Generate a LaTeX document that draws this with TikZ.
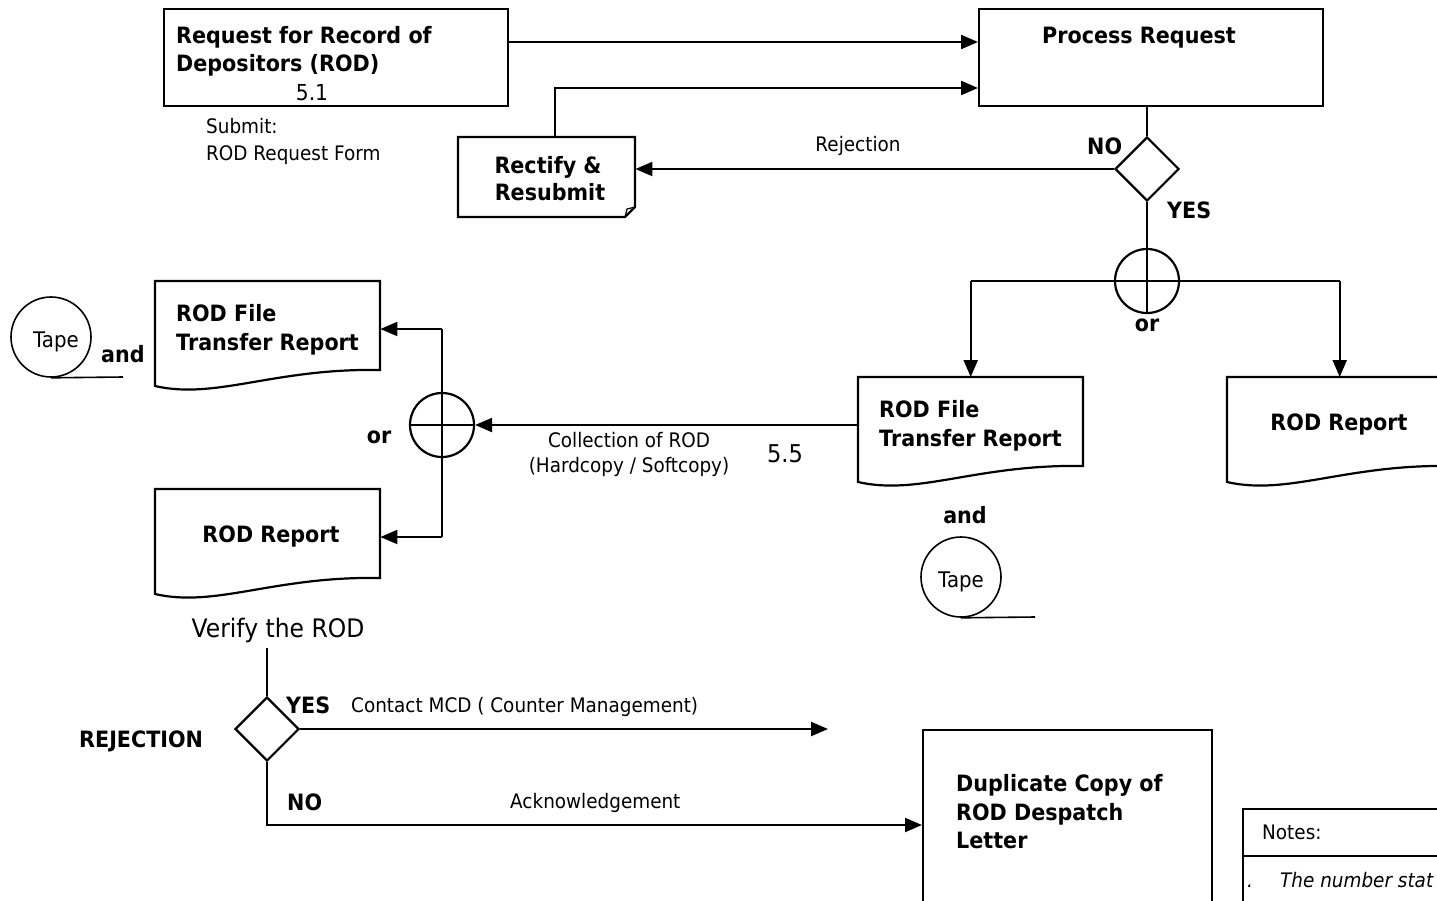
\documentclass[tikz,border=0pt]{standalone}
\usepackage{fontspec}
\setmainfont{DejaVu Sans}[FakeStretch=0.92]
\usetikzlibrary{arrows.meta,shapes.geometric}
\newcommand\fb{\fontsize{22.5}{27}\selectfont\bfseries}
\newcommand\fr{\fontsize{20}{24}\selectfont}
\newcommand\docat[5]{%
  \node[inner sep=0pt, minimum width=#4pt, minimum height=#5pt, anchor=north west] (#1) at (#2,#3) {};
  \pgfmathsetmacro\dXa{#2}\pgfmathsetmacro\dXb{#2+#4}%
  \pgfmathsetmacro\dYr{#3+#5}\pgfmathsetmacro\dYl{#3+#5+16}%
  \pgfmathsetmacro\dCa{#2+0.53*#4}\pgfmathsetmacro\dCb{#2+0.27*#4}%
  \pgfmathsetmacro\dYc{\dYr-2}\pgfmathsetmacro\dYd{\dYl+14}%
  \draw[ln] (\dXa,\dYl) -- (\dXa,#3) -- (\dXb,#3) -- (\dXb,\dYr) .. controls (\dCa,\dYc) and (\dCb,\dYd) .. (\dXa,\dYl) -- cycle;}
\tikzset{
  ln/.style={line width=2.2pt},
  arr/.style={ln, -{Triangle[length=17pt,width=14pt]}},
  boxn/.style={draw, ln, inner sep=0pt, anchor=north west},
  lb/.style={inner sep=0pt, anchor=base west},
  lc/.style={inner sep=0pt, anchor=base},
  xcirc/.style={draw, ln, circle, inner sep=0pt, minimum size=64pt},
  tape/.style={draw, line width=1.6pt, circle, inner sep=0pt, minimum size=80pt},
  dia/.style={draw, ln, diamond, inner sep=0pt, minimum width=64pt, minimum height=64pt},
}
\begin{document}
\begin{tikzpicture}[x=1pt, y=-1pt]
\useasboundingbox (0,0) rectangle (1437,900);
\clip (0,0) rectangle (1437,900);

% --- top row
\node[boxn, minimum width=344pt, minimum height=97pt] (req) at (163,8) {};
\node[lb] at (176,43) {\fb Request for Record of};
\node[lb] at (176,71) {\fb Depositors (ROD)};
\node[lc] at (312,100) {\fontsize{22}{26}\selectfont 5.1};
\node[lb] at (206,133) {\fr Submit:};
\node[lb] at (206,160) {\fr ROD Request Form};

\node[boxn, minimum width=344pt, minimum height=97pt] (proc) at (978,8) {};
\node[lc] at (1139,43) {\fb Process Request};

% rectify (document with folded corner)
\node[inner sep=0pt, minimum width=177pt, minimum height=80pt, anchor=north west] (rect) at (458,137) {};
\draw[ln] (458,137) -- (635,137) -- (635,207) -- (625,217) -- (458,217) -- cycle;
\draw[line width=1.2pt] (625,217) -- (627,209) -- (635,207);
\node[lc] at (548,173) {\fb Rectify \&};
\node[lc] at (550,200) {\fb Resubmit};

\coordinate (a1) at (0,42);
\draw[arr] (req.east |- a1) -- (proc.west |- a1);
\coordinate (r1) at (555,137);
\coordinate (r2) at (978,88);
\draw[arr] (r1) |- (r2);

% decision 1
\node[dia] (dia1) at (1147,169) {};
\draw[ln] (proc.south -| dia1) -- (dia1.north);
\draw[arr] (dia1.west) -- (rect.east |- dia1.west);
\node[lc] at (858,151) {\fr Rejection};
\node[lb] at (1087,154) {\fb NO};
\node[lb] at (1167,218) {\fb YES};

% or split 1
\node[xcirc] (x1) at (1147,281) {};
\draw[ln] (dia1.south) -- (x1.south);
\draw[ln] (x1.west) -- (x1.east);
\node[lc] at (1147,331) {\fb or};

\docat{docM}{858}{377}{225}{89}
\docat{docR}{1227}{377}{225}{89}
\draw[ln] (x1.center -| docM.north) -- (x1.center -| docR.north);
\draw[arr] (x1.center -| docM.north) -- (docM.north);
\draw[arr] (x1.center -| docR.north) -- (docR.north);
\node[lb] at (879,417) {\fb ROD File};
\node[lb] at (879,446) {\fb Transfer Report};
\node[lc] at (1339,430) {\fb ROD Report};
\node[lc] at (965,523) {\fb and};
\node[tape] (tapeR) at (961,577) {};
\node[lc] at (961,587) {\fontsize{21.5}{26}\selectfont Tape};
\coordinate (tr) at (1035,617);
\draw[line width=1.6pt] (tapeR.south) -- (tr);

% or split 2 (left)
\node[xcirc] (x2) at (442,425) {};
\draw[ln] (x2.west) -- (x2.east);
\draw[arr] (docM.west |- x2.east) -- (x2.east);
\node[lc] at (629,447) {\fr Collection of ROD};
\node[lc] at (629,472) {\fr (Hardcopy / Softcopy)};
\node[lc] at (785,462) {\fontsize{24.5}{28}\selectfont 5.5};
\node[lc] at (379,443) {\fb or};

\docat{docL1}{155}{281}{225}{89}
\docat{docL2}{155}{489}{225}{89}
\coordinate (j1) at (442,329);
\coordinate (j2) at (442,537);
\draw[ln] (j1) -- (j2);
\draw[arr] (j1) -- (docL1.east |- j1);
\draw[arr] (j2) -- (docL2.east |- j2);
\node[lb] at (176,321) {\fb ROD File};
\node[lb] at (176,350) {\fb Transfer Report};
\node[lc] at (271,542) {\fb ROD Report};
\node[lb] at (101,362) {\fb and};
\node[tape] (tapeL) at (51,337) {};
\node[lc] at (56,347) {\fontsize{21.5}{26}\selectfont Tape};
\coordinate (tl) at (123,377);
\draw[line width=1.6pt] (tapeL.south) -- (tl);

% verify
\node[lc] at (278,637) {\fontsize{25.5}{30}\selectfont Verify the ROD};
\node[dia] (dia2) at (267,729) {};
\coordinate (v1) at (267,648);
\draw[ln] (v1) -- (dia2.north);
\coordinate (c1) at (828,729);
\draw[arr] (dia2.east) -- (c1);
\node[lb] at (286,713) {\fb YES};
\node[lb] at (351,712) {\fr Contact MCD ( Counter Management)};
\node[lb] at (79,747) {\fb REJECTION};

\node[boxn, minimum width=289pt, minimum height=200pt] (dup) at (922,729) {};
\coordinate (n1) at (0,825);
\draw[arr] (dia2.south) |- (dup.west |- n1);
\node[lb] at (287,810) {\fb NO};
\node[lb] at (510,808) {\fr Acknowledgement};
\node[lb] at (956,791) {\fb Duplicate Copy of};
\node[lb] at (956,820) {\fb ROD Despatch};
\node[lb] at (956,848) {\fb Letter};

% notes
\node[boxn, minimum width=230pt, minimum height=120pt] (notes) at (1242,808) {};
\coordinate (nd) at (1242,856);
\draw[ln] (nd) -- (notes.east |- nd);
\node[lb] at (1262,839) {\fr Notes:};
\node[lb] at (1247,887) {\fr\itshape .};
\node[lb] at (1280,887) {\fr\itshape The number stat};
\end{tikzpicture}
\end{document}
